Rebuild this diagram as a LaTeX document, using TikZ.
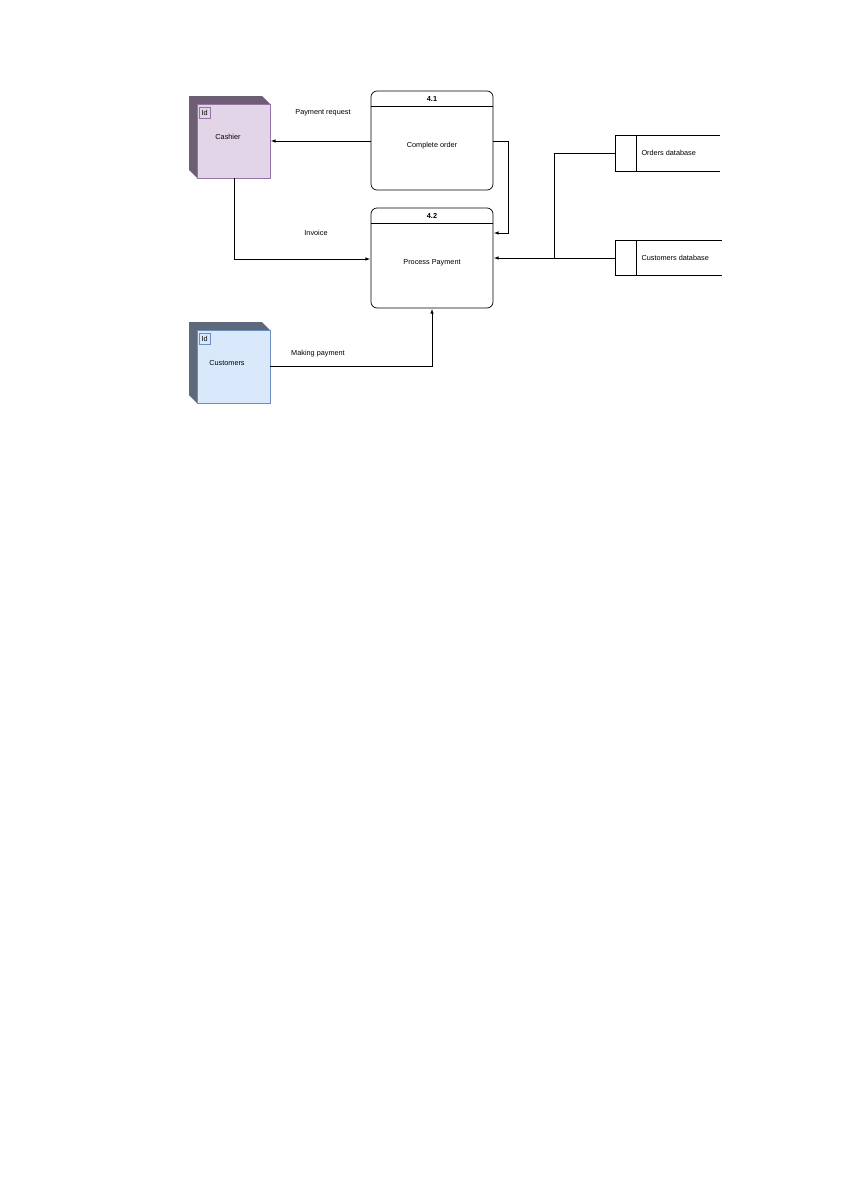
\documentclass[tikz,border=0pt]{standalone}
\usepackage{fontspec}
\setmainfont{Liberation Sans}
\begin{document}
\begin{tikzpicture}[x=1pt,y=-1pt,font=\fontsize{7.3}{9}\selectfont,
  flow/.style={draw,-latex,line width=0.6pt},
  proc/.style={draw,rounded corners=6pt,line width=0.7pt},
  lbl/.style={inner sep=0pt}]
\useasboundingbox (0,0) rectangle (842,1191);
\definecolor{cfill}{HTML}{E1D5E7}\definecolor{cline}{HTML}{9673A6}\definecolor{cside}{HTML}{6E5E74}
\definecolor{ufill}{HTML}{DAE8FC}\definecolor{uline}{HTML}{6C8EBF}\definecolor{uside}{HTML}{5E6A7C}
% Cashier
\fill[cside] (189,96) -- (262,96) -- (270,104) -- (197,104) -- (197,178) -- (189,170) -- cycle;
\draw[cline,fill=cfill,line width=0.8pt] (197,104) rectangle (270,178);
\node[draw=cline,minimum size=11pt,inner sep=0pt,anchor=north west] at (199,107) {Id};
\node (cash) at (228,137) {Cashier};
\coordinate (cashR) at (271,141);
\coordinate (cashB) at (234,178);
% Customers
\fill[uside] (189,322) -- (262,322) -- (270,330) -- (197,330) -- (197,403) -- (189,395) -- cycle;
\draw[uline,fill=ufill,line width=0.8pt] (197,330) rectangle (270,403);
\node[draw=uline,minimum size=11pt,inner sep=0pt,anchor=north west] at (199,333) {Id};
\node (cust) at (227,363) {Customers};
\coordinate (custR) at (270,366);
% Processes
\draw[proc] (371,91) rectangle (493,190); \draw[line width=0.6pt] (371,106) -- (493,106);
\node[font=\fontsize{7.3}{9}\selectfont\bfseries] at (432,98.5) {4.1};
\node (p1) at (432,146) {Complete order};
\draw[proc] (371,208) rectangle (493,308); \draw[line width=0.6pt] (371,223) -- (493,223);
\node[font=\fontsize{7.3}{9}\selectfont\bfseries] at (432,215.5) {4.2};
\node (p2) at (432,263) {Process Payment};
% Data stores
\draw[line width=0.6pt] (720,135) -- (615,135) -- (615,171) -- (720,171) (636,135) -- (636,171);
\node[anchor=west] (odb) at (638,153) {Orders database};
\draw[line width=0.6pt] (722,240) -- (615,240) -- (615,275) -- (722,275) (636,240) -- (636,275);
\node[anchor=west] (cdb) at (638,257.5) {Customers database};
% Flows
\draw[flow] (371,141) -- (cashR);
\node[lbl] at (323,113) {Payment request};
\draw[flow] (493,141) -- (508,141) -- (508,233) -- (494,233);
\draw[flow] (cashB) -- (234,259) -- (370,259);
\node[lbl] at (316,233) {Invoice};
\draw[flow] (615,153) -- (554,153) -- (554,258) -- (494,258);
\draw[line width=0.6pt] (615,258) -- (554,258);
\draw[flow] (custR) -- (432,366) -- (432,309);
\node[lbl] at (318,354) {Making payment};
\end{tikzpicture}
\end{document}
